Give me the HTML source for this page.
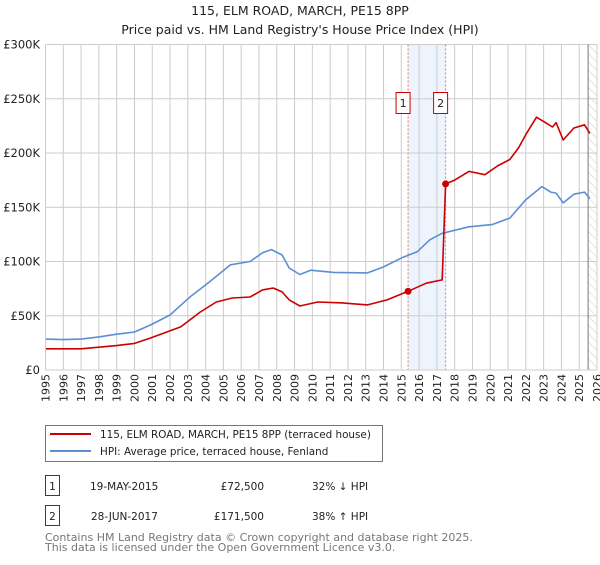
<!DOCTYPE html>
<html><head><meta charset="utf-8"><style>
body{margin:0;background:#fff;font-family:"Liberation Sans","DejaVu Sans",sans-serif;}
svg text{font-family:"DejaVu Sans","Liberation Sans",sans-serif;}
</style></head><body>
<svg id="c" width="600" height="560" xmlns="http://www.w3.org/2000/svg">
<defs><pattern id="hatch" width="6" height="6" patternUnits="userSpaceOnUse" patternTransform="rotate(-45)"><line x1="0" y1="0" x2="0" y2="6" stroke="#ccc" stroke-width="1"/></pattern></defs>
<text x="300" y="15" text-anchor="middle" font-size="12.5" fill="#222">115, ELM ROAD, MARCH, PE15 8PP</text>
<text x="300" y="34" text-anchor="middle" font-size="12.5" fill="#222">Price paid vs. HM Land Registry's House Price Index (HPI)</text>
<g id="grid"></g><g id="marks"></g><g id="axes"></g>
<g>
<rect x="45.5" y="425.5" width="337" height="36" fill="#fff" stroke="#777"/>
<line x1="50" y1="434" x2="91" y2="434" stroke="#cc0000" stroke-width="2"/>
<text x="100" y="438" font-size="10.4" fill="#222">115, ELM ROAD, MARCH, PE15 8PP (terraced house)</text>
<line x1="50" y1="451" x2="91" y2="451" stroke="#5b8fd4" stroke-width="2"/>
<text x="100" y="455" font-size="10.4" fill="#222">HPI: Average price, terraced house, Fenland</text>
</g>
<g font-size="10.5" fill="#222">
<rect x="45.5" y="475.5" width="14" height="20" fill="#fff" stroke="#cc0000"/>
<text x="52.5" y="490" text-anchor="middle">1</text>
<text x="90" y="490">19-MAY-2015</text>
<text x="264" y="490" text-anchor="end">£72,500</text>
<text x="312" y="490">32% ↓ HPI</text>
<rect x="45.5" y="505.5" width="14" height="20" fill="#fff" stroke="#cc0000"/>
<text x="52.5" y="520" text-anchor="middle">2</text>
<text x="91" y="520">28-JUN-2017</text>
<text x="264" y="520" text-anchor="end">£171,500</text>
<text x="312" y="520">38% ↑ HPI</text>
</g>
<text x="45" y="541" font-size="11" fill="#777">Contains HM Land Registry data © Crown copyright and database right 2025.</text>
<text x="45" y="551" font-size="11" fill="#777">This data is licensed under the Open Government Licence v3.0.</text>
</svg>
<script>
const hpiYears=[1995,1996,1997,1998,1999,2000,2000.9,2002.0,2003.1,2004.2,2005.4,2006.5,2007.2,2007.7,2008.3,2008.7,2009.3,2009.9,2011.2,2013.1,2014.0,2015.1,2015.9,2016.6,2017.3,2018.8,2020.1,2021.1,2022.0,2022.9,2023.4,2023.7,2024.1,2024.7,2025.3,2025.6];
const hpiValues=[28500,28000,28500,30500,33000,35000,41500,50700,67000,81000,97000,100000,108000,111000,106000,94000,88000,92000,90000,89500,95000,104000,109000,120000,126000,132000,134000,140000,157000,169000,164000,163000,154000,162000,164000,158000];
const priceYears=[1995,1997,1998,1999,2000,2000.9,2002.6,2003.7,2004.6,2005.5,2006.5,2007.2,2007.8,2008.3,2008.7,2009.3,2010.3,2011.7,2013.1,2014.2,2015.38,2016.4,2017.3,2017.49,2018.0,2018.8,2019.7,2020.4,2021.1,2021.6,2022.0,2022.6,2023.1,2023.5,2023.7,2024.1,2024.7,2025.3,2025.6];
const priceValues=[19500,19500,21000,22500,24500,29500,39700,53500,62700,66400,67300,73800,75600,72000,64600,59000,62700,61800,60000,64600,72500,80000,83000,171500,175000,183000,180000,188000,194000,205000,217000,233000,228000,224000,228000,212000,223000,226000,218000];
const saleYears=[2015.38,2017.49];
const saleValues=[72500,171500];
const saleLabels=["1","2"];
const yTicks=[0,50000,100000,150000,200000,250000,300000];
const yTickLabels=["£0","£50K","£100K","£150K","£200K","£250K","£300K"];
const xTicks=[1995,1996,1997,1998,1999,2000,2001,2002,2003,2004,2005,2006,2007,2008,2009,2010,2011,2012,2013,2014,2015,2016,2017,2018,2019,2020,2021,2022,2023,2024,2025,2026];

const X0=45.5,X1=597,Y0=370,Y1=44.5;
const xs=y=>X0+(y-1995)/(2026-1995)*(X1-X0);
const ys=v=>Y0-v/300000*(Y0-Y1);
const NS="http://www.w3.org/2000/svg";
function mk(tag,attrs,parent){const e=document.createElementNS(NS,tag);for(const k in attrs)e.setAttribute(k,attrs[k]);parent.appendChild(e);return e;}
const grid=document.getElementById('grid'),marks=document.getElementById('marks'),axes=document.getElementById('axes');
let sh=mk('rect',{x:xs(saleYears[0]),y:Y1,width:xs(saleYears[1])-xs(saleYears[0]),height:Y0-Y1,fill:'#eef4fd'},grid);


let ht=mk('rect',{x:xs(2025.5),y:Y1,width:X1-xs(2025.5),height:Y0-Y1,fill:'url(#hatch)'},grid);


xTicks.forEach(t=>{const l=mk('line',{x1:xs(t),x2:xs(t),y1:Y1,y2:Y0,stroke:'#ccc','stroke-width':1},grid);


const tx=mk('text',{x:0,y:0,'font-size':11,fill:'#222','text-anchor':'end',transform:`translate(${xs(t)+4},${Y0+4}) rotate(-90)`},axes);tx.textContent=t;

});
yTicks.forEach((t,i)=>{const l=mk('line',{x1:X0,x2:X1,y1:ys(t),y2:ys(t),stroke:'#ccc','stroke-width':1},grid);


const tx=mk('text',{x:40,y:ys(t)+4,'font-size':11.5,fill:'#222','text-anchor':'end'},axes);tx.textContent=yTickLabels[i];

});
let ed=mk('line',{x1:xs(2025.5),x2:xs(2025.5),y1:Y1,y2:Y0,stroke:'#777','stroke-width':1},grid);


saleYears.forEach((y,i)=>{const l=mk('line',{x1:xs(y),x2:xs(y),y1:Y1,y2:Y0,stroke:'#f07070','stroke-width':1,'stroke-dasharray':'2,2'},grid);

});
const path=(xa,va)=>xa.map((y,i)=>(i?'L':'M')+xs(y).toFixed(1)+','+ys(va[i]).toFixed(1)).join('');
let hp=mk('path',{d:path(hpiYears,hpiValues),fill:'none',stroke:'#5b8fd4','stroke-width':1.6,'stroke-linejoin':'round'},marks);


let pp=mk('path',{d:path(priceYears,priceValues),fill:'none',stroke:'#cc0000','stroke-width':1.6,'stroke-linejoin':'round'},marks);


saleYears.forEach((y,i)=>{const c=mk('circle',{cx:xs(y),cy:ys(saleValues[i]),r:3.5,fill:'#cc0000'},marks);


const g=mk('g',{},marks);
const r=mk('rect',{x:xs(y)-12,y:92.5,width:14,height:21,fill:'#fff',stroke:'#cc0000'},g);


const t=mk('text',{x:xs(y)-5,y:107,'font-size':11,fill:'#222','text-anchor':'middle'},g);t.textContent=saleLabels[i];

});
let ax=mk('path',{d:`M${X0},${Y1}V${Y0}H${X1}`,fill:'none',stroke:'#ccc'},axes);


</script>
</body></html>
